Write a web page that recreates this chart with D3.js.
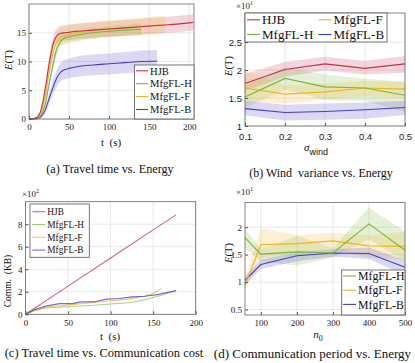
<!DOCTYPE html>
<html>
<head>
<meta charset="utf-8">
<script src="https://cdn.jsdelivr.net/npm/d3@7"></script>
<style>
  body { margin: 0; background: #fff; }
  svg { display: block; }
  text { white-space: pre; }
</style>
</head>
<body>
<div id="chart"></div>
<script>
// ===== (a) travel time vs energy =====
const timeA = [0, 5, 10, 15, 20, 25, 30, 35, 40, 45, 50, 60, 80, 100, 120, 140, 160, 170, 180, 205];
const aHJB   = [0, 0.05, 0.3, 1.6, 5.0, 9.5, 13.0, 14.5, 14.9, 15.0, 15.1, 15.25, 15.45, 15.65, 15.85, 16.05, 16.25, 16.35, 16.45, 16.8];
const aHJBsd = [0, 0, 0.05, 0.2, 0.6, 1.0, 1.2, 1.3, 1.35, 1.35, 1.35, 1.35, 1.35, 1.35, 1.35, 1.4, 1.4, 1.4, 1.4, 1.4];
const aH     = [0, 0.02, 0.1, 0.6, 2.5, 6.0, 9.5, 12.3, 13.6, 14.1, 14.3, 14.6, 15.0, 15.25, 15.45, 15.6];
const aHsd   = [0, 0, 0.02, 0.15, 0.4, 0.7, 0.9, 1.0, 1.0, 0.9, 0.9, 0.9, 0.9, 0.9, 0.95, 1.0];
const aF     = [0, 0.02, 0.15, 1.0, 3.8, 8.0, 11.5, 13.5, 14.3, 14.5, 14.7, 15.0, 15.4, 15.7, 15.9, 16.1, 16.3, 16.4];
const aFsd   = [0, 0, 0.05, 0.2, 0.5, 0.9, 1.1, 1.3, 1.4, 1.5, 1.5, 1.5, 1.5, 1.5, 1.5, 1.5, 1.55, 1.55];
const aB     = [0, 0.01, 0.05, 0.4, 1.5, 3.5, 5.5, 7.2, 8.2, 8.6, 8.8, 9.1, 9.4, 9.6, 9.8, 10.0, 10.1];
const aBsd   = [0, 0, 0.02, 0.2, 0.6, 1.0, 1.3, 1.5, 1.6, 1.7, 1.7, 1.75, 1.8, 1.8, 1.85, 1.9, 1.9];
const ticksAx = [0, 50, 100, 150, 200];
const ticksAy = [0, 5, 10, 15];

// ===== (b) wind variance vs energy (x10) =====
const windX = [0.1, 0.2, 0.3, 0.4, 0.5];
const bHJB = [1.76, 2.01, 2.11, 2.03, 2.11], bHJBlo = [1.63, 1.88, 1.99, 1.92, 1.95], bHJBhi = [1.93, 2.15, 2.24, 2.16, 2.25];
const bH   = [1.52, 1.85, 1.70, 1.68, 1.55], bHlo   = [1.32, 1.65, 1.47, 1.45, 1.25], bHhi   = [1.72, 2.05, 1.92, 1.85, 1.78];
const bF   = [1.68, 1.57, 1.61, 1.68, 1.66], bFlo   = [1.45, 1.40, 1.47, 1.53, 1.48], bFhi   = [1.99, 1.73, 1.76, 1.80, 1.80];
const bB   = [1.31, 1.24, 1.26, 1.29, 1.33], bBlo   = [1.19, 1.10, 1.11, 1.13, 1.20], bBhi   = [1.45, 1.38, 1.40, 1.42, 1.45];
const ticksBx = [0.1, 0.2, 0.3, 0.4, 0.5];
const ticksBy = [1, 1.5, 2, 2.5];

// ===== (c) travel time vs communication (x100 KB) =====
const cHJBt = [0, 50, 100, 150, 177], cHJB = [0, 2.5, 5.0, 7.5, 8.83];
const cHt = [0, 10, 20, 30, 45, 60, 80, 100, 125, 140, 160, 177];
const cH  = [0, 0.3, 0.5, 0.6, 0.65, 0.72, 0.8, 0.92, 1.05, 1.3, 1.7, 2.1];
const cFt = [0, 10, 25, 40, 60, 80, 100, 120, 140, 150, 160];
const cF  = [0, 0.35, 0.65, 0.75, 0.9, 1.05, 1.2, 1.35, 1.6, 1.85, 2.3];
const cBt = [0, 10, 25, 40, 55, 65, 80, 95, 110, 125, 140, 155, 177];
const cB  = [0, 0.4, 0.75, 0.95, 0.95, 1.1, 1.1, 1.35, 1.4, 1.55, 1.6, 1.75, 2.1];
const ticksCx = [0, 50, 100, 150, 200];
const ticksCy = [0, 2, 4, 6, 8];

// ===== (d) communication period vs energy (x10) =====
const periodX = [56, 100, 200, 300, 400, 500];
const dH = [1.81, 1.51, 1.55, 1.53, 2.06, 1.58], dHlo = [1.62, 1.38, 1.30, 1.45, 1.78, 1.38], dHhi = [1.98, 1.60, 1.84, 1.62, 2.36, 1.92];
const dF = [0.95, 1.68, 1.70, 1.75, 1.66, 1.65], dFlo = [0.87, 1.42, 1.55, 1.60, 1.45, 1.40], dFhi = [1.05, 1.98, 1.86, 1.90, 1.85, 1.92];
const dB = [1.03, 1.32, 1.48, 1.53, 1.52, 1.27], dBlo = [0.95, 1.24, 1.38, 1.46, 1.42, 1.12], dBhi = [1.10, 1.40, 1.55, 1.60, 1.63, 1.40];
const ticksDx = [100, 200, 300, 400, 500];
const ticksDy = [0.5, 1, 1.5, 2];

const names = ['HJB', 'MfgFL-H', 'MfgFL-F', 'MfgFL-B'];
const colors = { 'HJB': '#c4304c', 'MfgFL-H': '#78b53a', 'MfgFL-F': '#efb325', 'MfgFL-B': '#4a3bc2' };

const serif = "'Liberation Serif', 'DejaVu Serif', serif";
const sans = "'Liberation Sans', Arial, sans-serif";

const svg = d3.select('#chart').append('svg')
  .attr('width', 415)
  .attr('height', 363);

// draws the frame, grid and ticks of one panel
function makePanel(p) {
  const g = svg.append('g');
  const x = d3.scaleLinear().domain(p.xDom).range(p.xRange);
  const y = d3.scaleLinear().domain(p.yDom).range(p.yRange);
  const [x0, x1] = p.xRange, [y0, y1] = p.yRange;

  // grid
  g.selectAll('.gx').data(p.xTicks).enter().append('line')
    .attr('x1', d => x(d)).attr('x2', d => x(d))
    .attr('y1', y0).attr('y2', y1)
    .attr('stroke', '#e9e9e9').attr('stroke-width', 1);
  g.selectAll('.gy').data(p.yTicks).enter().append('line')
    .attr('x1', x0).attr('x2', x1)
    .attr('y1', d => y(d)).attr('y2', d => y(d))
    .attr('stroke', '#e9e9e9').attr('stroke-width', 1);

  const plot = g.append('g');

  const xAxis = g.append('g')
    .attr('transform', `translate(0,${y0})`)
    .call(d3.axisBottom(x).tickValues(p.xTicks).tickSizeInner(-3).tickSizeOuter(0)
      .tickPadding(p.xPad || 5).tickFormat(p.xFmt || d3.format('')));
  const yAxis = g.append('g')
    .attr('transform', `translate(${x0},0)`)
    .call(d3.axisLeft(y).tickValues(p.yTicks).tickSizeInner(-3).tickSizeOuter(0)
      .tickPadding(p.yPad || 4).tickFormat(p.yFmt || d3.format('')));
  [xAxis, yAxis].forEach(a => {
    a.select('.domain').remove();
    a.selectAll('line').attr('stroke', '#555');
    a.selectAll('text').attr('fill', '#222')
      .style('font-family', p.tickFont || serif)
      .style('font-size', (p.tickSize || 9) + 'px');
  });

  // box
  g.append('rect')
    .attr('x', x0).attr('y', y1)
    .attr('width', x1 - x0).attr('height', y0 - y1)
    .attr('fill', 'none').attr('stroke', '#666').attr('stroke-width', 0.8);

  return { g, plot, x, y };
}

function band(P, xs, lo, hi, color) {
  const pts = xs.map((d, i) => ({ x: d, lo: lo[i], hi: hi[i] }));
  P.plot.append('path')
    .datum(pts)
    .attr('d', d3.area().x(d => P.x(d.x)).y0(d => P.y(d.lo)).y1(d => P.y(d.hi)).curve(P.curve))
    .attr('fill', color)
    .attr('fill-opacity', 0.2);
}

function line(P, xs, ys, color, op) {
  const pts = xs.map((d, i) => ({ x: d, y: ys[i] }));
  P.plot.append('path')
    .datum(pts)
    .attr('d', d3.line().x(d => P.x(d.x)).y(d => P.y(d.y)).curve(P.curve))
    .attr('fill', 'none')
    .attr('stroke', color)
    .attr('stroke-opacity', op || 1)
    .attr('stroke-width', 1.1);
}

function legend(L) {
  const g = svg.append('g');
  g.append('rect')
    .attr('x', L.x).attr('y', L.y).attr('width', L.w).attr('height', L.h)
    .attr('fill', '#fff').attr('stroke', '#555').attr('stroke-width', 0.8);
  L.items.forEach(it => {
    g.append('line')
      .attr('x1', it.x).attr('x2', it.x + L.len)
      .attr('y1', it.y).attr('y2', it.y)
      .attr('stroke', colors[it.name]).attr('stroke-width', 1.1)
      .attr('stroke-opacity', L.op || 1);
    g.append('text')
      .attr('x', it.x + L.len + 2).attr('y', it.y)
      .attr('dy', '0.35em')
      .attr('font-family', serif).attr('font-size', L.size)
      .attr('fill', '#111')
      .text(it.name);
  });
}

function yLabelET(cx, cy, size) {
  const t = svg.append('text')
    .attr('transform', `translate(${cx},${cy}) rotate(-90)`)
    .attr('text-anchor', 'middle')
    .attr('font-family', serif).attr('font-size', size).attr('fill', '#111');
  t.append('tspan').attr('font-style', 'italic').text('E');
  t.append('tspan').text('(T)');
}

function expLabel(x, y, p) {
  const t = svg.append('text').attr('x', x).attr('y', y)
    .attr('font-family', serif).attr('font-size', 9).attr('fill', '#222');
  t.append('tspan').text('\u00d710');
  t.append('tspan').attr('font-size', 6).attr('dy', -4).text(p);
}

function caption(cx, y, size, str) {
  svg.append('text')
    .attr('x', cx).attr('y', y)
    .attr('text-anchor', 'middle')
    .attr('font-family', serif).attr('font-size', size).attr('fill', '#111')
    .text(str);
}

// ---------- (a) ----------
const A = makePanel({ xDom: [0, 206], xRange: [29, 194], yDom: [0, 20], yRange: [119, 4],
  xTicks: ticksAx, yTicks: ticksAy, xPad: 5, yPad: 3 });
A.curve = d3.curveMonotoneX;
const aSeries = [[aHJB, aHJBsd], [aH, aHsd], [aF, aFsd], [aB, aBsd]];
aSeries.forEach((s, i) => {
  const xs = timeA.slice(0, s[0].length);
  band(A, xs, s[0].map((v, j) => Math.max(0, v - s[1][j])), s[0].map((v, j) => v + s[1][j]), colors[names[i]]);
});
[3, 2, 1, 0].forEach(i => line(A, timeA.slice(0, aSeries[i][0].length), aSeries[i][0], colors[names[i]]));
legend({ x: 134.5, y: 65, w: 59.5, h: 54, len: 12, size: 10.6,
  items: names.map((n, i) => ({ name: n, x: 136, y: 70.8 + i * 12.9 })) });
yLabelET(12, 60, 10.5);
svg.append('text').attr('x', 111).attr('y', 146).attr('text-anchor', 'middle')
  .attr('font-family', serif).attr('font-size', 11).attr('fill', '#111').text('t  (s)');
caption(110, 173, 12.2, '(a) Travel time vs. Energy');

// ---------- (b) ----------
const B = makePanel({ xDom: [0.1, 0.5], xRange: [245, 405], yDom: [1, 3.02], yRange: [126, 13],
  xTicks: ticksBx, yTicks: ticksBy, xPad: 7, yPad: 3, tickFont: sans, tickSize: 9.5,
  xFmt: d3.format('.1f'), yFmt: d => String(d) });
B.curve = d3.curveLinear;
band(B, windX, bHJBlo, bHJBhi, colors['HJB']);
band(B, windX, bHlo, bHhi, colors['MfgFL-H']);
band(B, windX, bFlo, bFhi, colors['MfgFL-F']);
band(B, windX, bBlo, bBhi, colors['MfgFL-B']);
line(B, windX, bB, colors['MfgFL-B']);
line(B, windX, bF, colors['MfgFL-F']);
line(B, windX, bH, colors['MfgFL-H']);
line(B, windX, bHJB, colors['HJB']);
legend({ x: 245, y: 13, w: 142, h: 29, len: 13, size: 13,
  items: [{ name: 'HJB', x: 247, y: 19.8 }, { name: 'MfgFL-F', x: 318.5, y: 19.8 },
          { name: 'MfgFL-H', x: 247, y: 34.5 }, { name: 'MfgFL-B', x: 318.5, y: 34.5 }] });
expLabel(236, 9, '1');
yLabelET(232, 66, 10.5);
{
  const t = svg.append('text').attr('x', 316).attr('y', 151)
    .attr('font-family', serif).attr('font-size', 11).attr('fill', '#111').attr('text-anchor', 'middle');
  t.append('tspan').attr('font-style', 'italic').text('\u03c3');
  t.append('tspan').attr('font-family', sans).attr('font-size', 9).attr('dy', 4).text('wind');
}
caption(321, 176.5, 12, '(b) Wind  variance vs. Energy');

// ---------- (c) ----------
const C = makePanel({ xDom: [0, 200], xRange: [25.5, 195.7], yDom: [0, 10], yRange: [314.3, 201.7],
  xTicks: ticksCx, yTicks: ticksCy, xPad: 5, yPad: 3 });
C.curve = d3.curveLinear;
line(C, cHJBt, cHJB, colors['HJB'], 0.75);
line(C, cHt, cH, colors['MfgFL-H'], 0.6);
line(C, cFt, cF, colors['MfgFL-F'], 0.75);
line(C, cBt, cB, colors['MfgFL-B'], 0.75);
legend({ x: 30, y: 204, w: 59.3, h: 53.3, len: 13, size: 9.3, op: 0.75,
  items: names.map((n, i) => ({ name: n, x: 32.3, y: 211.7 + i * 12.8 })) });
expLabel(22, 197, '2');
svg.append('text')
  .attr('transform', 'translate(11,281) rotate(-90)')
  .attr('text-anchor', 'middle')
  .attr('font-family', serif).attr('font-size', 9.5).attr('fill', '#111')
  .text('Comm.  (KB)');
svg.append('text').attr('x', 110).attr('y', 340).attr('text-anchor', 'middle')
  .attr('font-family', serif).attr('font-size', 11).attr('fill', '#111').text('t  (s)');
caption(104, 357, 12.5, '(c) Travel time vs. Communication cost');

// ---------- (d) ----------
const D = makePanel({ xDom: [56, 500], xRange: [245, 405], yDom: [0.4, 2.45], yRange: [315, 202.5],
  xTicks: ticksDx, yTicks: ticksDy, xPad: 5, yPad: 3, yFmt: d => String(d) });
D.curve = d3.curveLinear;
band(D, periodX, dHlo, dHhi, colors['MfgFL-H']);
band(D, periodX, dFlo, dFhi, colors['MfgFL-F']);
band(D, periodX, dBlo, dBhi, colors['MfgFL-B']);
line(D, periodX, dB, colors['MfgFL-B']);
line(D, periodX, dF, colors['MfgFL-F']);
line(D, periodX, dH, colors['MfgFL-H']);
legend({ x: 341.7, y: 270, w: 63.3, h: 45, len: 13, size: 11.8,
  items: names.slice(1).map((n, i) => ({ name: n, x: 343, y: 276 + i * 14.2 })) });
expLabel(236, 195, '1');
yLabelET(232, 253, 10.5);
{
  const t = svg.append('text').attr('x', 318).attr('y', 338)
    .attr('font-family', serif).attr('font-size', 11).attr('fill', '#111').attr('text-anchor', 'middle');
  t.append('tspan').attr('font-style', 'italic').text('n');
  t.append('tspan').attr('font-size', 8).attr('dy', 3).text('0');
}
caption(312.5, 358, 13, '(d) Communication period vs. Energy');
</script>
</body>
</html>
